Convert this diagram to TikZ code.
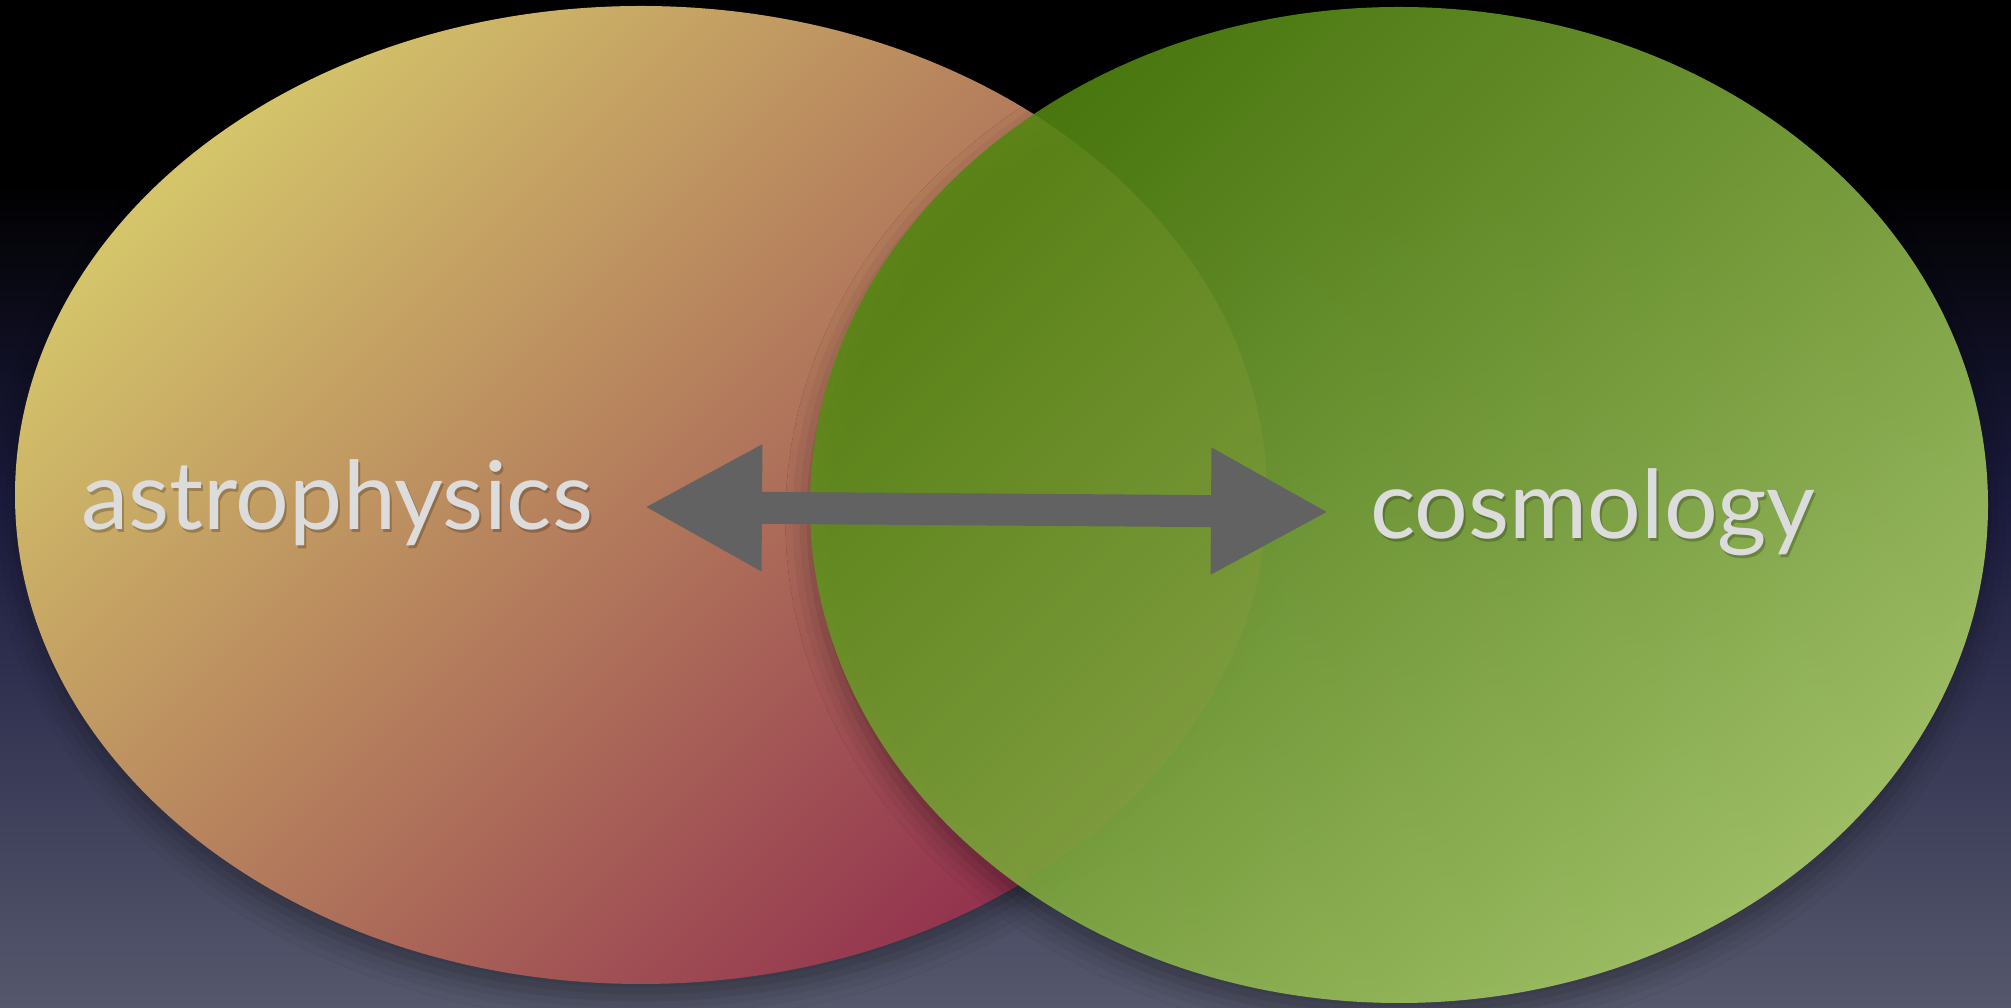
\documentclass[tikz,border=0pt]{standalone}
\usepackage{fontspec}
\setmainfont{Lato}
\usepackage{xcolor}
\usepackage{tikz}
\usetikzlibrary{arrows.meta, positioning, shadows.blur}

\definecolor{bgbottom}{HTML}{55586C}
\definecolor{bgmid}{HTML}{1C1C40}
\definecolor{astrotop}{HTML}{D4C56A}
\definecolor{astromid}{HTML}{B48660}
\definecolor{astrobot}{HTML}{92304E}
\definecolor{cosmotop}{HTML}{538710}
\definecolor{cosmomid}{HTML}{7BA939}
\definecolor{cosmobot}{HTML}{AED26A}
\definecolor{topicgray}{HTML}{DCDCDC}
\definecolor{arrowgray}{HTML}{626262}

\pgfdeclareverticalshading{nightsky}{100bp}{color(0bp)=(bgbottom); color(25bp)=(bgbottom); color(50bp)=(bgmid); color(66bp)=(black); color(100bp)=(black)}

\begin{document}
\begin{tikzpicture}[every node/.style={font=\fontsize{27}{32}\selectfont, inner sep=0pt},
    field/.style={blur shadow={shadow xshift=0pt, shadow yshift=-4pt, shadow blur radius=7pt, shadow opacity=35}},
    topic/.style={text=topicgray, anchor=base},
    topicshade/.style={text=black, anchor=base, opacity=0.22},
    twoway/.style={arrowgray, line width=0.32cm, {Triangle[length=1.18cm, width=1.18cm]}-{Triangle[length=1.18cm, width=1.18cm]}}]
    \useasboundingbox (0,0) rectangle (20.11,10.08);
    \shade[shading=nightsky] (0,0) rectangle (20.11,10.08);
    \shade[field, top color=astrotop, middle color=astromid, bottom color=astrobot, shading angle=45] (6.41,5.13) ellipse [x radius=6.26, y radius=4.89];
    \shade[field, top color=cosmotop, middle color=cosmomid, bottom color=cosmobot, shading angle=45, fill opacity=0.87] (13.99,5.03) ellipse [x radius=5.89, y radius=4.98];
    \node[topicshade] at (3.39,4.75) {astrophysics};
    \node[topic] (astro) at (3.37,4.78) {astrophysics};
    \node[topicshade] at (15.95,4.66) {cosmology};
    \node[topic] (cosmo) at (15.93,4.69) {cosmology};
    \coordinate (astrotip) at (6.44,5.01);
    \coordinate (cosmotip) at (13.29,4.96);
    \draw[twoway] (astrotip) -- (cosmotip);
  \end{tikzpicture}
\end{document}
